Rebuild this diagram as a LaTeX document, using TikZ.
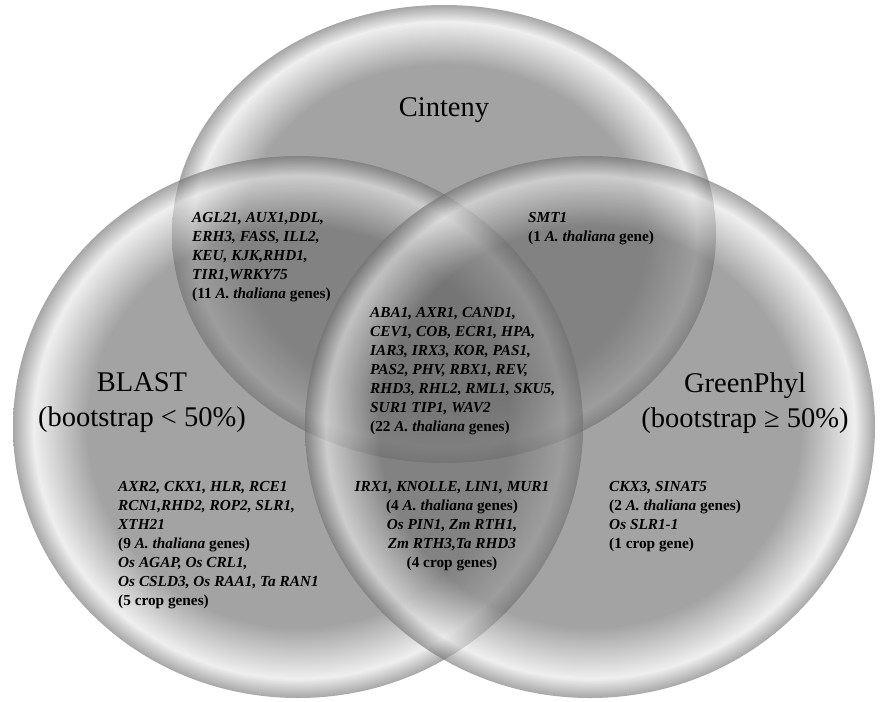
\documentclass[tikz,border=0pt]{standalone}
\usepackage{fontspec}
\setmainfont{Liberation Serif}
\definecolor{bubin}{rgb}{0.43,0.43,0.43}
\definecolor{bubhi}{rgb}{0.9,0.9,0.9}
\definecolor{bubedge}{rgb}{0.45,0.45,0.45}
\pgfdeclareradialshading{bubble}{\pgfpoint{0bp}{0bp}}{%
  color(0bp)=(bubin); color(18.5bp)=(bubin); color(23.2bp)=(bubhi);
  color(25bp)=(bubedge); color(50bp)=(bubedge)}
\tikzset{
  bubbleshade/.style={shading=bubble, opacity=0.63},
  genes/.style={inner sep=0pt, align=left, text=black,
    font=\fontsize{15.3}{19}\selectfont\bfseries},
  genesc/.style={genes, align=center},
  setlabel/.style={inner sep=0pt, align=center, text=black,
    font=\fontsize{28.5}{35}\selectfont},
}
\begin{document}
\begin{tikzpicture}[x=1pt,y=-1pt]
\useasboundingbox (0,0) rectangle (880,701);
% sets
\shade[bubbleshade] (444,234) ellipse [x radius=272pt, y radius=229pt];
\shade[bubbleshade] (298,427) ellipse [x radius=285pt, y radius=271pt];
\shade[bubbleshade] (590,427) ellipse [x radius=285pt, y radius=271pt];
% set labels
\node[setlabel, anchor=base] (cinteny) at (444,116.5) {Cinteny};
\node[setlabel, anchor=north] (blast) at (142,372.5) {BLAST\\(bootstrap < 50\%)};
\node[setlabel, anchor=north] (greenphyl) at (745,372.5) {GreenPhyl\\(bootstrap ≥ 50\%)};
% gene lists
\node[genes, anchor=north west] (bc) at (192,212.5) {%
  \textit{AGL21, AUX1,DDL,}\\
  \textit{ERH3, FASS, ILL2,}\\
  \textit{KEU, KJK,RHD1,}\\
  \textit{TIR1,WRKY75}\\
  (11 \textit{A. thaliana} genes)};
\node[genes, anchor=north west] (cg) at (528,212.5) {%
  \textit{SMT1}\\
  (1 \textit{A. thaliana} gene)};
\node[genes, anchor=north west] (bcg) at (370,307.5) {%
  \textit{ABA1, AXR1, CAND1,}\\
  \textit{CEV1, COB, ECR1, HPA,}\\
  \textit{IAR3, IRX3, KOR, PAS1,}\\
  \textit{PAS2, PHV, RBX1, REV,}\\
  \textit{RHD3, RHL2, RML1, SKU5,}\\
  \textit{SUR1 TIP1, WAV2}\\
  (22 \textit{A. thaliana} genes)};
\node[genes, anchor=north west] (b) at (118,481.5) {%
  \textit{AXR2, CKX1, HLR, RCE1}\\
  \textit{RCN1,RHD2, ROP2, SLR1,}\\
  \textit{XTH21}\\
  (9 \textit{A. thaliana} genes)\\
  \textit{Os AGAP, Os CRL1,}\\
  \textit{Os CSLD3, Os RAA1, Ta RAN1}\\
  (5 crop genes)};
\node[genesc, anchor=north] (bg) at (452,481.5) {%
  \textit{IRX1, KNOLLE, LIN1, MUR1}\\
  (4 \textit{A. thaliana} genes)\\
  \textit{Os PIN1, Zm RTH1,}\\
  \textit{Zm RTH3,Ta RHD3}\\
  (4 crop genes)};
\node[genes, anchor=north west] (g) at (609,481.5) {%
  \textit{CKX3, SINAT5}\\
  (2 \textit{A. thaliana} genes)\\
  \textit{Os SLR1-1}\\
  (1 crop gene)};
\end{tikzpicture}
\end{document}
